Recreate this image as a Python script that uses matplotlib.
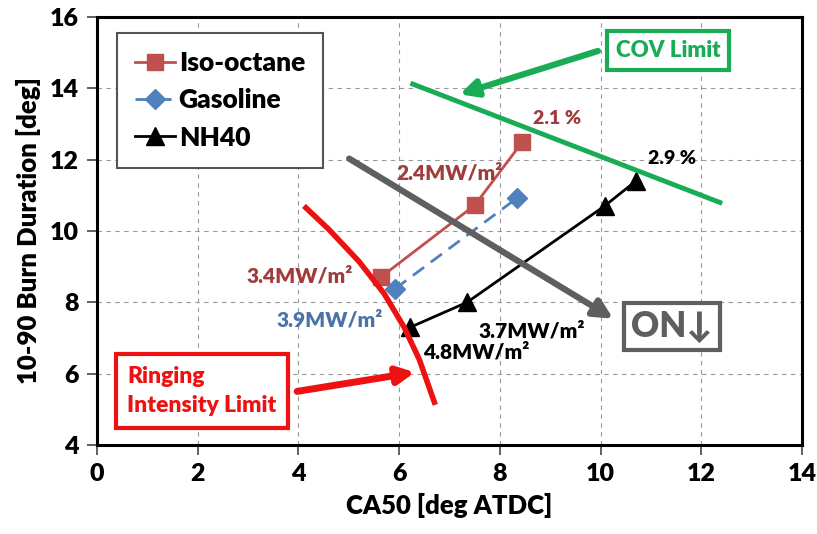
import numpy as np
import matplotlib

matplotlib.use("Agg")
import matplotlib.pyplot as plt  # noqa: E402

plt.rcParams["font.family"] = ["Lato", "DejaVu Sans"]
plt.rcParams["font.weight"] = "heavy"
plt.rcParams["axes.labelweight"] = "heavy"

# series
iso_x = [5.65, 7.5, 8.45]
iso_y = [8.72, 10.72, 12.5]
gas_x = [5.92, 8.34]
gas_y = [8.38, 10.92]
nh_x = [6.22, 7.35, 10.08, 10.7]
nh_y = [7.3, 8.0, 10.7, 11.4]

# annotation guide lines
cov_x = [6.27, 12.37]
cov_y = [14.12, 10.8]
ring_x = [4.15, 4.6, 5.2, 5.7, 6.1, 6.4, 6.7]
ring_y = [10.65, 10.05, 9.15, 8.25, 7.3, 6.4, 5.2]
on_x = [4.96, 10.3]
on_y = [12.07, 7.5]

iso_c = "#c0504d"
gas_c = "#4f81bd"
green = "#1aab55"
red = "#ee1111"
gray = "#5f5f5f"

fig = plt.figure(figsize=(8.17, 5.34), dpi=100)
ax = fig.add_axes([0.1187, 0.1667, 0.8629, 0.8015])

ax.plot(iso_x, iso_y, color=iso_c, lw=2, marker="s", ms=12, label="Iso-octane")
ax.plot(gas_x, gas_y, color=gas_c, lw=2, ls=(0, (5, 3)), marker="D", ms=10,
        label="Gasoline")
ax.plot(nh_x, nh_y, color="black", lw=2, marker="^", ms=13, label="NH40")

ax.plot(cov_x, cov_y, color=green, lw=3.5)
ax.plot(ring_x, ring_y, color=red, lw=4)
ax.annotate("", xy=(on_x[1], on_y[1]), xytext=(on_x[0], on_y[0]),
            arrowprops=dict(arrowstyle="-|>", color=gray, lw=4.5, mutation_scale=28))

ax.set_xlim(0, 14)
ax.set_ylim(4, 16)
ax.set_xticks(range(0, 15, 2))
ax.set_yticks(range(4, 17, 2))
ax.tick_params(labelsize=18, width=1.2, length=7, color="#444444", pad=6)
for lbl in ax.get_xticklabels() + ax.get_yticklabels():
    lbl.set_fontweight("heavy")
ax.grid(True, ls=(0, (4, 4)), color="#999999", lw=0.8)
for s in ax.spines.values():
    s.set_linewidth(2.2)
ax.set_xlabel("CA50 [deg ATDC]", fontsize=18.5, labelpad=6)
ax.set_ylabel("10-90 Burn Duration [deg]", fontsize=18.5, labelpad=6)

leg = ax.legend(loc="upper left", bbox_to_anchor=(0.028, 0.963), fontsize=19,
                borderaxespad=0, handlelength=1.5, handletextpad=0.15, borderpad=0.7,
                labelspacing=0.5, fancybox=False, framealpha=1, edgecolor="#555555")
leg.get_frame().set_linewidth(1.5)

# boxes
ax.text(11.34, 15.07, "COV Limit", color=green, fontsize=16, ha="center", va="center",
        bbox=dict(boxstyle="square,pad=0.4", fc="white", ec=green, lw=3))
ax.annotate("", xy=(7.15, 13.81), xytext=(10.0, 15.07),
            arrowprops=dict(arrowstyle="-|>", color=green, lw=4.5, mutation_scale=25))

ax.text(0.6, 5.51, "Ringing\nIntensity Limit", color=red, fontsize=16.5,
        ha="left", va="center", linespacing=1.5,
        bbox=dict(boxstyle="square,pad=0.5", fc="white", ec=red, lw=3))
ax.annotate("", xy=(6.37, 6.05), xytext=(3.92, 5.49),
            arrowprops=dict(arrowstyle="-|>", color=red, lw=5, mutation_scale=25))

ax.text(11.42, 7.31, "ON\u2193", color=gray, fontsize=25, ha="center", va="center",
        bbox=dict(boxstyle="square,pad=0.2", fc="white", ec=gray, lw=3))

# point labels
ax.text(8.66, 13.14, "2.1 %", color="#a03c3c", fontsize=14, va="center")
ax.text(10.94, 12.02, "2.9 %", color="black", fontsize=14, va="center")
ax.text(5.95, 11.45, "2.4MW/m\u00b2", color="#a03c3c", fontsize=15)
ax.text(2.97, 8.75, "3.4MW/m\u00b2", color="#a03c3c", fontsize=15, va="center")
ax.text(3.57, 7.5, "3.9MW/m\u00b2", color="#4a73a8", fontsize=15, va="center")
ax.text(7.57, 7.2, "3.7MW/m\u00b2", color="black", fontsize=15, va="center")
ax.text(6.47, 6.6, "4.8MW/m\u00b2", color="black", fontsize=15, va="center")

fig.savefig("out.png")
